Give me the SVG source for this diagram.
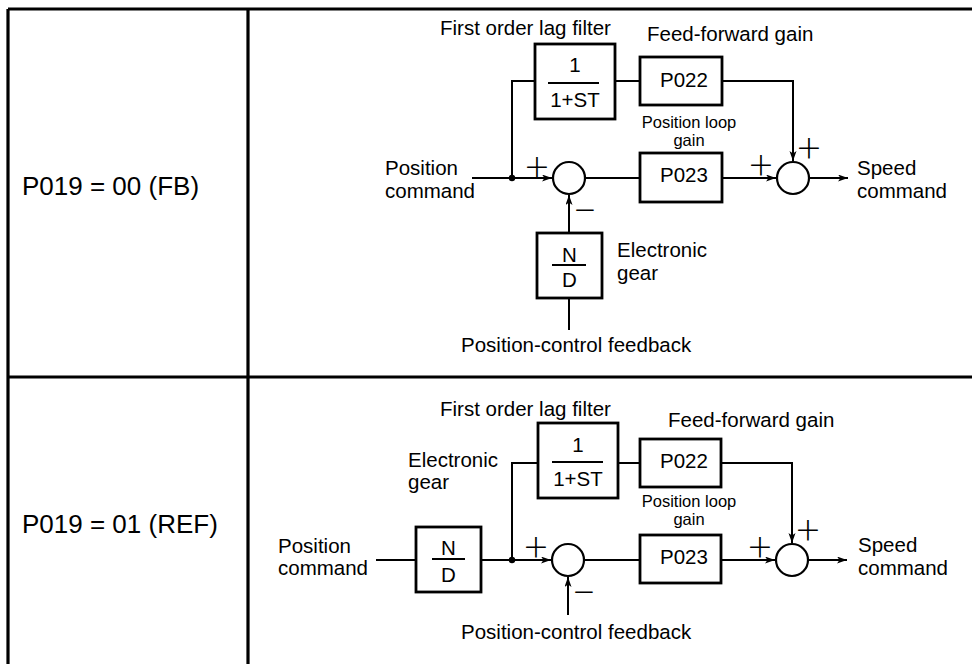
<svg xmlns="http://www.w3.org/2000/svg" width="972" height="664" viewBox="0 0 972 664">
<style>
text{font-family:"Liberation Sans",Arial,sans-serif;fill:#000}
.lbl{font-size:20.5px}
.big{font-size:26px}
.sm{font-size:16.5px}
.sign{font-family:Lato,Roboto,"Liberation Sans",sans-serif;font-weight:300;font-size:42px;text-anchor:middle}
.mid{text-anchor:middle}
.box{fill:#fff;stroke:#000;stroke-width:2.8}
.sum{fill:#fff;stroke:#000;stroke-width:2.2}
.ln{fill:none;stroke:#000;stroke-width:2}
.tbl{fill:none;stroke:#000;stroke-width:3.2}
</style>
<defs>
<marker id="arr" markerUnits="userSpaceOnUse" markerWidth="11" markerHeight="8" refX="10" refY="3.5" orient="auto">
<path d="M0,0 L10,3.5 L0,7 L2.5,3.5 z" fill="#000"/>
</marker>
</defs>
<rect width="972" height="664" fill="#fff"/>
<g id="table">
<path class="tbl" d="M8,9 H972 M8,9 V664 M248,9 V664 M8,377 H972"/>
<text class="big" x="22" y="195">P019 = 00 (FB)</text>
<text class="big" x="22" y="533">P019 = 01 (REF)</text>
</g>
<!-- Top diagram -->
<g id="connectors-top">
<path class="ln" d="M472,178 H552" marker-end="url(#arr)"/>
<path class="ln" d="M512,178 V81 H535"/>
<path class="ln" d="M615,81 H640"/>
<path class="ln" d="M585,178 H640"/>
<path class="ln" d="M722,178 H776" marker-end="url(#arr)"/>
<path class="ln" d="M722,81 H793 V161" marker-end="url(#arr)"/>
<path class="ln" d="M809,178 H848" marker-end="url(#arr)"/>
<path class="ln" d="M569,233 V195" marker-end="url(#arr)"/>
<path class="ln" d="M569,298 V330"/>
<circle cx="512" cy="178" r="3.2" fill="#000"/>
</g>
<g id="filter-top">
<rect class="box" x="535" y="44" width="80" height="75"/>
<text class="lbl mid" x="575" y="72">1</text>
<path class="ln" d="M548,83 H599"/>
<text class="lbl mid" x="575" y="107">1+ST</text>
<text class="lbl" x="440" y="35">First order lag filter</text>
</g>
<g id="p022-top">
<rect class="box" x="640" y="57" width="82" height="48"/>
<text class="lbl mid" x="684" y="87">P022</text>
<text class="lbl" x="647" y="41">Feed-forward gain</text>
</g>
<g id="p023-top">
<rect class="box" x="640" y="153" width="82" height="49"/>
<text class="lbl mid" x="684" y="182">P023</text>
<text class="sm mid" x="689" y="128">Position loop</text>
<text class="sm mid" x="689" y="146">gain</text>
</g>
<g id="sum1-top">
<circle class="sum" cx="569" cy="178" r="16"/>
<text class="sign" x="537" y="181">+</text>
<text class="sign" x="585" y="224">−</text>
</g>
<g id="sum2-top">
<circle class="sum" cx="793" cy="178" r="16"/>
<text class="sign" x="761" y="179">+</text>
<text class="sign" x="809" y="162">+</text>
</g>
<g id="gear-top">
<rect class="box" x="537" y="233" width="65" height="65"/>
<text class="lbl mid" x="569.5" y="262">N</text>
<path class="ln" d="M552,265 H586"/>
<text class="lbl mid" x="569.5" y="287">D</text>
<text class="lbl" x="617" y="257">Electronic</text>
<text class="lbl" x="617" y="280">gear</text>
</g>
<g id="io-top">
<text class="lbl" x="385" y="175">Position</text>
<text class="lbl" x="385" y="198">command</text>
<text class="lbl" x="857" y="175">Speed</text>
<text class="lbl" x="857" y="198">command</text>
<text class="lbl" x="461" y="352">Position-control feedback</text>
</g>
<!-- Bottom diagram -->
<g id="connectors-bottom">
<path class="ln" d="M376,560 H416"/>
<path class="ln" d="M481,560 H551" marker-end="url(#arr)"/>
<path class="ln" d="M512,560 V463 H538"/>
<path class="ln" d="M618,463 H640"/>
<path class="ln" d="M584,560 H640"/>
<path class="ln" d="M721,560 H775" marker-end="url(#arr)"/>
<path class="ln" d="M721,463 H792 V543" marker-end="url(#arr)"/>
<path class="ln" d="M808,560 H847" marker-end="url(#arr)"/>
<path class="ln" d="M568,615 V577" marker-end="url(#arr)"/>
<circle cx="512" cy="560" r="3.2" fill="#000"/>
</g>
<g id="gear-bottom">
<rect class="box" x="416" y="527" width="65" height="65"/>
<text class="lbl mid" x="448.5" y="555">N</text>
<path class="ln" d="M432,559 H465"/>
<text class="lbl mid" x="448.5" y="582">D</text>
<text class="lbl" x="408" y="467">Electronic</text>
<text class="lbl" x="408" y="489">gear</text>
</g>
<g id="filter-bottom">
<rect class="box" x="538" y="423" width="80" height="75"/>
<text class="lbl mid" x="578" y="452">1</text>
<path class="ln" d="M552,462 H603"/>
<text class="lbl mid" x="578" y="486">1+ST</text>
<text class="lbl" x="440" y="416">First order lag filter</text>
</g>
<g id="p022-bottom">
<rect class="box" x="640" y="439" width="81" height="48"/>
<text class="lbl mid" x="684" y="468">P022</text>
<text class="lbl" x="668" y="427">Feed-forward gain</text>
</g>
<g id="p023-bottom">
<rect class="box" x="640" y="535" width="81" height="48"/>
<text class="lbl mid" x="684" y="564">P023</text>
<text class="sm mid" x="689" y="507">Position loop</text>
<text class="sm mid" x="689" y="525">gain</text>
</g>
<g id="sum1-bottom">
<circle class="sum" cx="568" cy="560" r="16"/>
<text class="sign" x="536" y="561">+</text>
<text class="sign" x="584" y="606">−</text>
</g>
<g id="sum2-bottom">
<circle class="sum" cx="792" cy="560" r="16"/>
<text class="sign" x="760" y="561">+</text>
<text class="sign" x="808" y="544">+</text>
</g>
<g id="io-bottom">
<text class="lbl" x="278" y="553">Position</text>
<text class="lbl" x="278" y="575">command</text>
<text class="lbl" x="858" y="552">Speed</text>
<text class="lbl" x="858" y="575">command</text>
<text class="lbl" x="461" y="639">Position-control feedback</text>
</g>
</svg>
